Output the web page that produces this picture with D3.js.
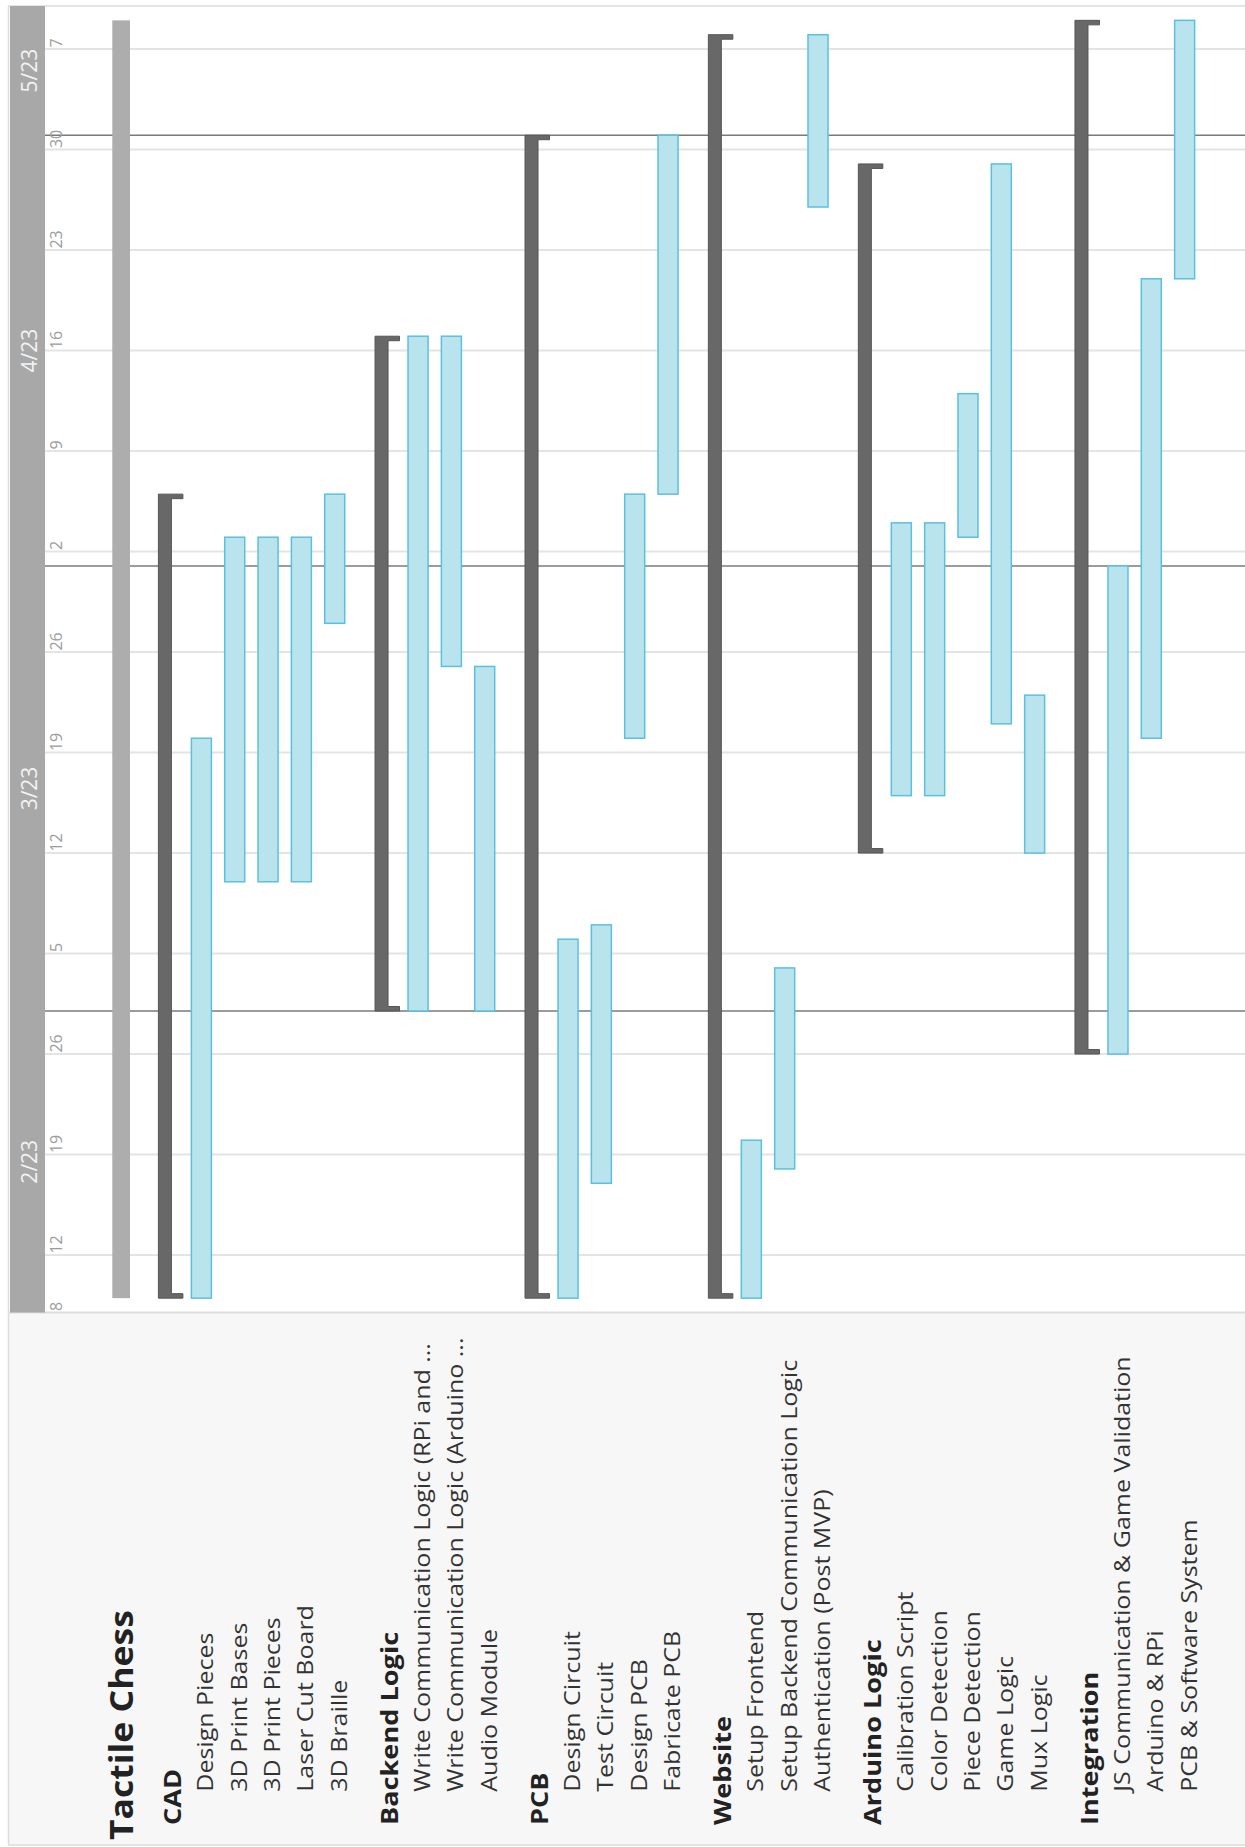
<!DOCTYPE html>
<html><head><meta charset="utf-8">
<script src="https://cdn.jsdelivr.net/npm/d3@7"></script>
<style>html,body{margin:0;padding:0;background:#fff;}svg{display:block;}</style>
</head><body>
<svg id="chart" width="1245" height="1847"></svg>
<script>
// ---------------- DATA ----------------
const chartTitle = "Tactile Chess";
const timeDomain = ["2023-02-08", "2023-05-10"];
const monthStarts = ["2023-02-01", "2023-03-01", "2023-04-01", "2023-05-01"];
const monthLabels = ["2/23", "3/23", "4/23", "5/23"];
const tickDates = ["2023-02-08", "2023-02-12", "2023-02-19", "2023-02-26", "2023-03-05", "2023-03-12",
  "2023-03-19", "2023-03-26", "2023-04-02", "2023-04-09", "2023-04-16", "2023-04-23", "2023-04-30", "2023-05-07"];
const gridDates = tickDates.slice(1);

const groupNames = ["CAD", "Backend Logic", "PCB", "Website", "Arduino Logic", "Integration"];
const taskNames = [
  "Design Pieces", "3D Print Bases", "3D Print Pieces", "Laser Cut Board", "3D Braille",
  "Write Communication Logic (RPi and ...", "Write Communication Logic (Arduino ...", "Audio Module",
  "Design Circuit", "Test Circuit", "Design PCB", "Fabricate PCB",
  "Setup Frontend", "Setup Backend Communication Logic", "Authentication (Post MVP)",
  "Calibration Script", "Color Detection", "Piece Detection", "Game Logic", "Mux Logic",
  "JS Communication & Game Validation", "Arduino & RPi", "PCB & Software System"
];
const taskGroup = [0,0,0,0,0, 1,1,1, 2,2,2,2, 3,3,3, 4,4,4,4,4, 5,5,5];
const taskStart = [
  "2023-02-09", "2023-03-10", "2023-03-10", "2023-03-10", "2023-03-28",
  "2023-03-01", "2023-03-25", "2023-03-01",
  "2023-02-09", "2023-02-17", "2023-03-20", "2023-04-06",
  "2023-02-09", "2023-02-18", "2023-04-26",
  "2023-03-16", "2023-03-16", "2023-04-03", "2023-03-21", "2023-03-12",
  "2023-02-26", "2023-03-20", "2023-04-21"
];
const taskEnd = [
  "2023-03-20", "2023-04-03", "2023-04-03", "2023-04-03", "2023-04-06",
  "2023-04-17", "2023-04-17", "2023-03-25",
  "2023-03-06", "2023-03-07", "2023-04-06", "2023-05-01",
  "2023-02-20", "2023-03-04", "2023-05-08",
  "2023-04-04", "2023-04-04", "2023-04-13", "2023-04-29", "2023-03-23",
  "2023-04-01", "2023-04-21", "2023-05-09"
];

// ---------------- DRAW ----------------
const W = 1245, H = 1847;
const parse = d3.utcParse("%Y-%m-%d");
const dayFmt = d3.utcFormat("%-d");
const svg = d3.select("#chart");
// rotated frame: x = time (bottom->top on page), y = rows (left->right on page)
const g = svg.append("g").attr("transform", `translate(0,${H}) rotate(-90)`);

const FONT = "'Open Sans', 'Noto Sans', sans-serif";
const x = d3.scaleUtc().domain(timeDomain.map(parse)).range([H - 1312.5, H - 6]);
const x0 = x.range()[0], x1 = x.range()[1];

// row layout
const pos = [];
let p = 0;
taskNames.forEach((t, i) => {
  if (i > 0) p += (taskGroup[i] !== taskGroup[i - 1]) ? 2.5 : 1;
  pos.push(p);
});
const y = d3.scaleLinear().domain([0, 1]).range([201.4, 234.73]);

// backgrounds
g.append("rect").attr("x", 2).attr("y", 8).attr("width", x0 - 2).attr("height", W - 8).attr("fill", "#f7f7f7");
g.append("rect").attr("x", x0).attr("y", 8).attr("width", x1 - x0).attr("height", W - 8).attr("fill", "#ffffff");
// borders
g.append("line").attr("x1", 2).attr("x2", x1).attr("y1", 8.5).attr("y2", 8.5).attr("stroke", "#dddddd").attr("stroke-width", 1.5);
g.append("line").attr("x1", x1).attr("x2", x1).attr("y1", 8).attr("y2", W).attr("stroke", "#dddddd").attr("stroke-width", 1.5);
g.append("line").attr("x1", 2).attr("x2", 2).attr("y1", 8).attr("y2", W).attr("stroke", "#dddddd").attr("stroke-width", 1.5);
g.append("line").attr("x1", x0).attr("x2", x0).attr("y1", 8).attr("y2", W).attr("stroke", "#dddddd").attr("stroke-width", 2);

// month band
g.append("rect").attr("x", x0).attr("y", 10).attr("width", x1 - x0).attr("height", 35).attr("fill", "#a8a8a8");

// week gridlines
g.selectAll("line.grid").data(gridDates.map(parse)).join("line").attr("class", "grid")
  .attr("x1", d => x(d)).attr("x2", d => x(d)).attr("y1", 45).attr("y2", W)
  .attr("stroke", "#e4e4e4").attr("stroke-width", 2);

// month boundary lines
const monthDates = monthStarts.map(parse);
g.selectAll("line.month").data(monthDates.filter(d => d > x.domain()[0])).join("line").attr("class", "month")
  .attr("x1", d => x(d)).attr("x2", d => x(d)).attr("y1", 45).attr("y2", W)
  .attr("stroke", "#7a7a7a").attr("stroke-width", 1.5);

// day tick labels
g.selectAll("text.tick").data(tickDates.map(parse)).join("text").attr("class", "tick")
  .attr("x", d => x(d) + 1.5).attr("y", 61.5)
  .attr("font-family", FONT).attr("font-size", 16).attr("fill", "#9c9c9c")
  .text(d => dayFmt(d));

// month labels
const dom = x.domain();
g.selectAll("text.mlab").data(monthDates).join("text").attr("class", "mlab")
  .attr("x", (d, i) => {
    const s = d < dom[0] ? dom[0] : d;
    const nx = i + 1 < monthDates.length ? monthDates[i + 1] : dom[1];
    const e = nx > dom[1] ? dom[1] : nx;
    return (x(s) + x(e)) / 2;
  })
  .attr("y", 36.5).attr("text-anchor", "middle")
  .attr("font-family", FONT).attr("font-size", 21).attr("fill", "#f3f3f3")
  .text((d, i) => monthLabels[i]);

// project summary bar
const allStart = d3.min(taskStart.map(parse)), allEnd = d3.max(taskEnd.map(parse));
g.append("rect").attr("x", x(allStart)).attr("width", x(allEnd) - x(allStart))
  .attr("y", y(0) - 89.1).attr("height", 17.7).attr("fill", "#adadad");

// group brackets
const groupData = groupNames.map((name, gi) => {
  const idx = d3.range(taskNames.length).filter(i => taskGroup[i] === gi);
  return {
    name,
    first: idx[0],
    start: d3.min(idx, i => parse(taskStart[i])),
    end: d3.max(idx, i => parse(taskEnd[i]))
  };
});
const bw = 13, cw = 24.5, ct = 4.5;
g.selectAll("path.bracket").data(groupData).join("path").attr("class", "bracket")
  .attr("d", d => {
    const a = x(d.start), b = x(d.end), L = y(pos[d.first]) - 43;
    return `M${a},${L}L${b},${L}L${b},${L + cw}L${b - ct},${L + cw}L${b - ct},${L + bw}` +
      `L${a + ct},${L + bw}L${a + ct},${L + cw}L${a},${L + cw}Z`;
  })
  .attr("fill", "#686868").attr("stroke", "#555555").attr("stroke-width", 1);

// task bars
g.selectAll("rect.task").data(d3.range(taskNames.length)).join("rect").attr("class", "task")
  .attr("x", i => x(parse(taskStart[i])))
  .attr("width", i => x(parse(taskEnd[i])) - x(parse(taskStart[i])))
  .attr("y", i => y(pos[i]) - 10).attr("height", 20)
  .attr("fill", "#b9e4ee").attr("stroke", "#5bc0de").attr("stroke-width", 1.5);

// labels
g.append("text").attr("transform", `translate(7,${y(0) - 68.1}) scale(1.11,1)`)
  .attr("font-family", FONT).attr("font-weight", "bold").attr("font-size", 32).attr("fill", "#222")
  .text(chartTitle);

g.selectAll("text.glab").data(groupData).join("text").attr("class", "glab")
  .attr("transform", d => `translate(22,${y(pos[d.first]) - 20}) scale(1.18,1)`)
  .attr("font-family", FONT).attr("font-weight", "bold").attr("font-size", 23).attr("fill", "#222")
  .text(d => d.name);

g.selectAll("text.tlab").data(d3.range(taskNames.length)).join("text").attr("class", "tlab")
  .attr("transform", i => `translate(55.3,${y(pos[i]) + 12}) scale(1.19,1)`)
  .attr("font-family", FONT).attr("font-size", 21).attr("fill", "#333")
  .text(i => taskNames[i]);
</script>
</body></html>
